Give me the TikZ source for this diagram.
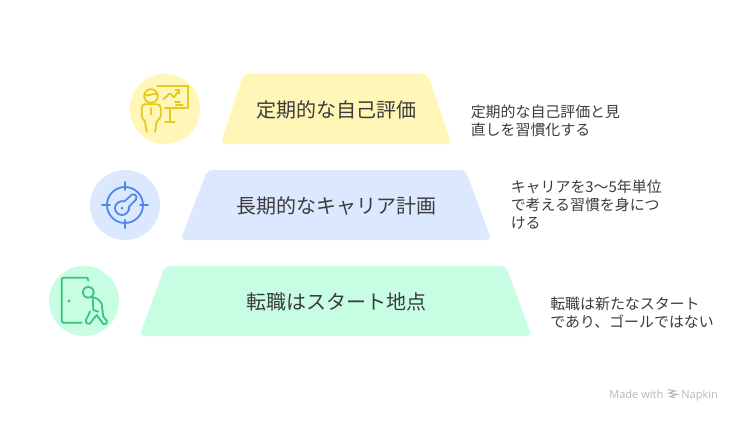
\documentclass[tikz,border=0pt]{standalone}
\usepackage{fontspec}
\setmainfont{Noto Sans CJK JP}
\newfontfamily\latinf{Open Sans}
\definecolor{yelbg}{HTML}{FFF6B8}
\definecolor{bluebg}{HTML}{DCE8FE}
\definecolor{grnbg}{HTML}{C6FDE3}
\definecolor{yelic}{HTML}{E5C91C}
\definecolor{blueic}{HTML}{4F86E8}
\definecolor{grnic}{HTML}{3CC383}
\definecolor{txt}{HTML}{3C3C3C}
\newcommand\descfont{\fontsize{11.2}{13.5}\selectfont\lineskiplimit=-20pt\relax}
\tikzset{
  title/.style={font=\fontsize{15}{18}\selectfont,text=txt,inner sep=0pt,anchor=center},
  desc/.style={font=\descfont,text=txt,inner sep=0pt,anchor=base west,align=left},
  trap/.style={rounded corners=4pt,draw=none},
  ic/.style={line width=1.35pt,line cap=round,line join=round,fill=none},
  wmark/.style={font=\latinf\fontsize{8.3}{10}\selectfont,text=black!28,inner sep=0pt,anchor=base west},
}
\begin{document}
\begin{tikzpicture}[x=0.75pt,y=-0.75pt]
\useasboundingbox (0,0) rectangle (741,421);
\fill[white] (0,0) rectangle (741,421);
% trapezoids
\fill[trap,yelbg] (243.5,74) -- (427.5,74) -- (451.5,144) -- (220.5,144) -- cycle;
\fill[trap,bluebg] (207.5,170) -- (465.5,170) -- (491.5,240) -- (180.5,240) -- cycle;
\fill[trap,grnbg] (165,266) -- (506,266) -- (531.5,336) -- (139.5,336) -- cycle;
% titles
\node[title] (t1) at (336,109.5) {定期的な自己評価};
\node[title] (t2) at (336,205.5) {長期的なキャリア計画};
\node[title] (t3) at (336,301.5) {転職はスタート地点};
% descriptions
\node[desc] (d1) at (470.5,135) {定期的な自己評価と見\\直しを習慣化する};
\node[desc] (d2) at (510.5,228) {キャリアを3〜5年単位\\で考える習慣を身につ\\ける};
\node[desc] (d3) at (550,327) {転職は新たなスタート\\であり、ゴールではない};
% icon discs
\fill[yelbg] (165,109) circle (35);
\fill[bluebg] (125,205) circle (35);
\fill[grnbg] (84,301) circle (35);
% icon 1: presenter
\begin{scope}[ic,draw=yelic]
\draw (157,85.7) -- (188,85.7) -- (188,108) -- (165,108);
\draw (170,108) -- (170,121.7) (165,121.7) -- (174.5,121.7);
\draw (163.3,99.3) -- (170,93.3) -- (174,97.3) -- (179.3,90) (175.5,90) -- (179.3,90) -- (179.3,93.5);
\draw (175,101.7) -- (180,101.7) (176,105) -- (182.7,105);
\draw (151,96) circle (6.8);
\draw (144.5,94.5) .. controls (149,97.5) and (153,92) .. (157.5,94.5);
\draw (150.7,108) -- (150.7,114.3);
\draw (146.7,131.7) -- (145,121.7) -- (141.7,116.7) -- (141.7,108) .. controls (141.7,105.5) and (143,104.3) .. (145,104.3) -- (156.7,104.3) .. controls (159,104.3) and (160.7,105.5) .. (160.7,108) -- (160.7,116.7) -- (156.7,121.7) -- (155,131.7);
\end{scope}
% icon 2: key in target
\begin{scope}[ic,draw=blueic]
\draw (125,205) circle (18);
\draw (125,182) -- (125,190) (125,220) -- (125,228) (102,205) -- (110,205) (140,205) -- (148,205);
\draw (124.4,201.4) .. controls (120,200) and (115,203.5) .. (115,208) .. controls (115,212) and (118,215) .. (122,215) .. controls (126,215) and (130,211) .. (128.9,206.8) -- (136,199.5) .. controls (137.5,196) and (135,193.5) .. (132,194.5) -- cycle;
\fill[blueic,draw=none] (122,208) circle (1.5);
\end{scope}
% icon 3: person leaving door
\begin{scope}[ic,draw=grnic]
\draw (88.3,280.7) -- (87.5,277.7) -- (64,277.7) .. controls (62.5,277.7) and (61.7,278.5) .. (61.7,280) -- (61.7,320.5) .. controls (61.7,322) and (62.5,322.7) .. (64,322.7) -- (81.7,322.7);
\fill[grnic,draw=none] (69,301) circle (1.7);
\draw (88.3,292.3) circle (5.6);
\draw (91.7,297) .. controls (96,297.5) and (100,300) .. (101.7,304) -- (103.3,316.7) -- (106.7,320.7) .. controls (107.5,323.5) and (105,325) .. (103.3,324) -- (96.7,315);
\draw (92.7,297.5) -- (93.3,310) -- (98.3,311.7);
\draw (96.7,315) -- (90,323.3) .. controls (88,325) and (85,322.5) .. (86,320) -- (90,311.7);
\end{scope}
% watermark
\node[wmark] (w1) at (609,398) {Made with};
\node[wmark] (w2) at (681,398) {Napkin};
\draw[black!28,line width=0.8pt] (668,389.5) -- (675,391) -- (669,393) -- (677,394.5) -- (670,396.5) -- (675,398);
\end{tikzpicture}
\end{document}
